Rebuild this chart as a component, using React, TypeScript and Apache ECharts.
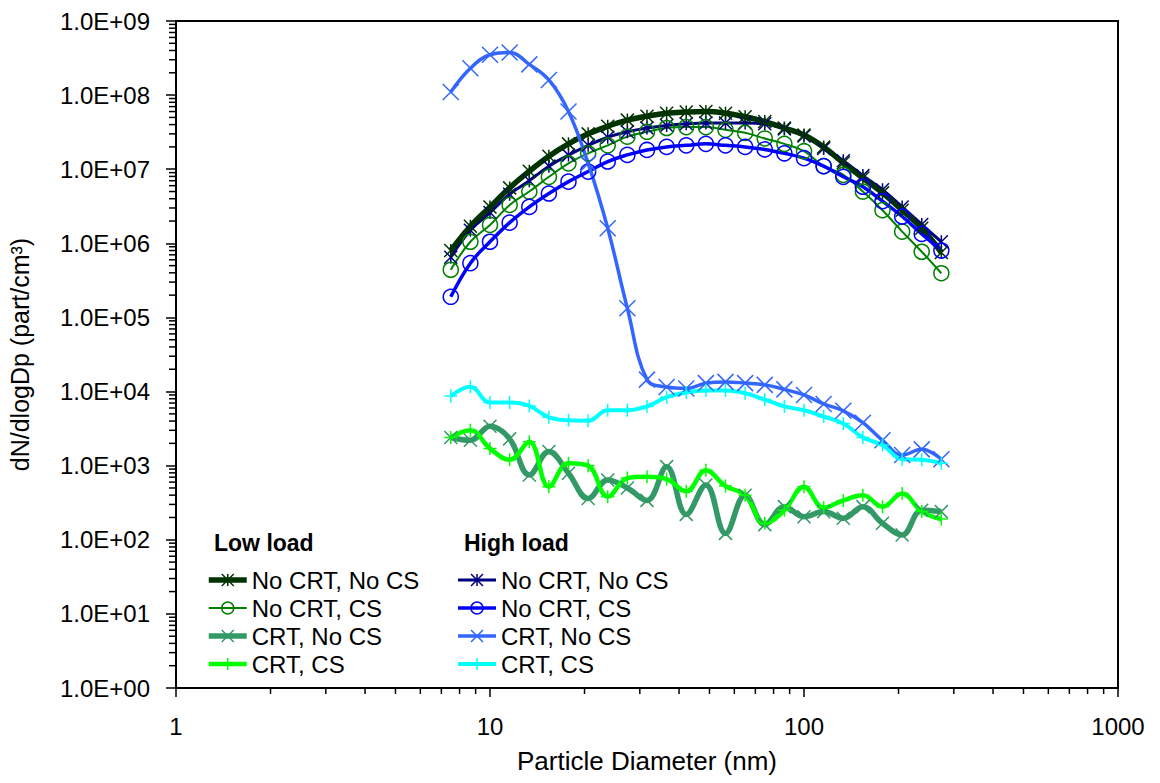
import React, { useEffect, useRef } from "react";
import * as echarts from "echarts";

// Particle diameters (nm), SMPS channel midpoints
const diameters = [7.5, 8.66, 10.0, 11.55, 13.34, 15.4, 17.78, 20.54, 23.71, 27.38, 31.62, 36.52, 42.17, 48.7, 56.23, 64.94, 74.99, 86.6, 100.0, 115.5, 133.4, 154.0, 177.8, 205.4, 237.1, 273.8];

// Low load
const lowNoCrtNoCs = [8.0e5, 1.7e6, 3.1e6, 5.6e6, 9.4e6, 1.5e7, 2.2e7, 3.0e7, 3.8e7, 4.6e7, 5.2e7, 5.7e7, 5.9e7, 6.0e7, 5.7e7, 5.1e7, 4.4e7, 3.6e7, 2.9e7, 2.0e7, 1.22e7, 7.6e6, 4.8e6, 2.8e6, 1.6e6, 7.5e5];
const lowNoCrtCs = [4.4e5, 1.05e6, 1.77e6, 3.3e6, 5.0e6, 7.9e6, 1.2e7, 1.64e7, 2.1e7, 2.75e7, 3.2e7, 3.6e7, 3.7e7, 3.7e7, 3.4e7, 3.1e7, 2.6e7, 2.2e7, 1.75e7, 1.1e7, 8.4e6, 5.0e6, 2.8e6, 1.44e6, 7.7e5, 3.95e5];
const lowCrtNoCs = [2.4e3, 2.2e3, 3.4e3, 2.3e3, 7.5e2, 1.55e3, 7.9e2, 3.6e2, 6.4e2, 5.0e2, 3.4e2, 9.7e2, 2.2e2, 5.5e2, 1.22e2, 4.0e2, 1.6e2, 2.8e2, 2.05e2, 2.4e2, 1.95e2, 2.8e2, 1.67e2, 1.16e2, 2.5e2, 2.4e2];
const lowCrtCs = [2.4e3, 3.0e3, 1.7e3, 1.2e3, 2.1e3, 5.2e2, 1.08e3, 1.0e3, 3.8e2, 6.8e2, 7.1e2, 6.6e2, 4.5e2, 8.7e2, 5.3e2, 4.0e2, 1.67e2, 2.5e2, 5.2e2, 2.7e2, 3.4e2, 4.0e2, 2.8e2, 4.2e2, 2.4e2, 1.9e2];

// High load
const highNoCrtNoCs = [6.5e5, 1.5e6, 2.6e6, 4.6e6, 7.0e6, 1.1e7, 1.55e7, 2.1e7, 2.7e7, 3.2e7, 3.6e7, 3.9e7, 4.1e7, 4.2e7, 4.2e7, 4.2e7, 4.1e7, 3.5e7, 2.8e7, 1.9e7, 1.3e7, 8.2e6, 5.3e6, 3.1e6, 1.8e6, 1.05e6];
const highNoCrtCs = [1.9e5, 5.4e5, 1.05e6, 1.9e6, 3.1e6, 4.7e6, 6.8e6, 9.3e6, 1.27e7, 1.56e7, 1.82e7, 2.0e7, 2.1e7, 2.2e7, 2.1e7, 2.0e7, 1.85e7, 1.64e7, 1.41e7, 1.1e7, 7.9e6, 5.8e6, 3.7e6, 2.3e6, 1.34e6, 8.0e5];
const highCrtNoCs = [1.1e8, 2.3e8, 3.5e8, 3.75e8, 2.6e8, 1.6e8, 6.0e7, 1.2e7, 1.6e6, 1.33e5, 1.45e4, 1.15e4, 1.1e4, 1.3e4, 1.35e4, 1.3e4, 1.23e4, 1.07e4, 9.0e3, 6.8e3, 5.5e3, 3.8e3, 2.2e3, 1.39e3, 1.66e3, 1.22e3];
const highCrtCs = [8.7e3, 1.16e4, 7.1e3, 7.1e3, 6.4e3, 4.5e3, 4.1e3, 4.05e3, 5.6e3, 5.6e3, 6.3e3, 8.4e3, 9.7e3, 1.03e4, 1.03e4, 9.5e3, 7.8e3, 6.3e3, 5.6e3, 4.6e3, 3.7e3, 2.4e3, 1.9e3, 1.22e3, 1.2e3, 1.08e3];

const yTickLabels = ["1.0E+00", "1.0E+01", "1.0E+02", "1.0E+03", "1.0E+04", "1.0E+05", "1.0E+06", "1.0E+07", "1.0E+08", "1.0E+09"];
const xTickLabels = ["1", "10", "100", "1000"];
const legendNames = ["No CRT, No CS", "No CRT, CS", "CRT, No CS", "CRT, CS"];

const STAR = "path://M0 0L10 10M10 0L0 10M5 0L5 10";
const CROSS = "path://M0 0L10 10M10 0L0 10";
const PLUS = "path://M5 0L5 10M0 5L10 5";

const FONT = "Liberation Sans, Arial, sans-serif";

function mk(name: string, values: number[], color: string, lineWidth: number, symbol: string, symbolSize: number, symW: number) {
  return {
    type: "line",
    name,
    data: diameters.map((d, i) => [d, values[i]]),
    smooth: 0.4,
    symbol,
    symbolSize,
    showSymbol: true,
    lineStyle: { color, width: lineWidth },
    itemStyle: { color: "transparent", borderColor: color, borderWidth: symW },
    emphasis: { disabled: true },
  };
}

export default function App() {
  const ref = useRef<HTMLDivElement>(null);
  useEffect(() => {
    document.body.style.margin = "0";
    const chart = echarts.init(ref.current!, null, { renderer: "svg" });
    const yMinor: number[][] = [];
    for (let k = 0; k < 9; k++) for (let m = 2; m <= 9; m++) yMinor.push([1, m * Math.pow(10, k)]);
    const xMinor: number[][] = [];
    for (let k = 0; k < 3; k++) for (let m = 2; m <= 9; m++) xMinor.push([m * Math.pow(10, k), 1]);

    const legendBase = {
      orient: "vertical",
      itemWidth: 38,
      itemHeight: 15,
      itemGap: 4,
      padding: 0,
      selectedMode: false,
      textStyle: { fontSize: 24, fontFamily: FONT, color: "#000", lineHeight: 24 },
      lineStyle: { width: "inherit" },
      itemStyle: { borderWidth: "inherit" },
      formatter: (n: string) => n.replace(/^(Low|High): /, ""),
    };

    chart.setOption({
      animation: false,
      backgroundColor: "#fff",
      grid: { left: 176, right: 42, top: 21, bottom: 95, show: true, borderColor: "#000", borderWidth: 2, backgroundColor: "transparent", containLabel: false, outerBoundsMode: "none" },
      xAxis: {
        type: "log",
        logBase: 10,
        min: 1,
        max: 1000,
        axisLine: { show: true, lineStyle: { color: "#000", width: 2 } },
        axisTick: { show: true, length: 9, lineStyle: { color: "#000", width: 1.5 } },
        splitLine: { show: false },
        axisLabel: {
          fontSize: 24, fontFamily: FONT, color: "#000", margin: 26,
          formatter: (v: number) => xTickLabels[Math.round(Math.log10(v))] ?? "",
        },
        name: "Particle Diameter (nm)",
        nameLocation: "middle",
        nameGap: 60,
        nameTextStyle: { fontSize: 26, fontFamily: FONT, color: "#000" },
      },
      yAxis: {
        type: "log",
        logBase: 10,
        min: 1,
        max: 1e9,
        axisLine: { show: true, lineStyle: { color: "#000", width: 2 } },
        axisTick: { show: true, length: 10, lineStyle: { color: "#000", width: 1.5 } },
        splitLine: { show: false },
        axisLabel: {
          fontSize: 24, fontFamily: FONT, color: "#000", margin: 26,
          formatter: (v: number) => yTickLabels[Math.round(Math.log10(v))] ?? "",
        },
        name: "dN/dlogDp (part/cm³)",
        nameLocation: "middle",
        nameGap: 144,
        nameTextStyle: { fontSize: 25, fontFamily: FONT, color: "#000" },
      },
      legend: [
        { ...legendBase, left: 206, top: 568, data: legendNames.map((n) => "Low: " + n) },
        { ...legendBase, left: 456, top: 568, data: legendNames.map((n) => "High: " + n) },
      ],
      graphic: [
        { type: "text", left: 214, top: 531, style: { text: "Low load", font: `bold 23px ${FONT}`, fill: "#000" } },
        { type: "text", left: 464, top: 531, style: { text: "High load", font: `bold 23px ${FONT}`, fill: "#000" } },
      ],
      series: [
        {
          type: "custom",
          name: "yminor",
          silent: true,
          clip: false,
          z: 5,
          data: yMinor,
          encode: { x: 0, y: 1 },
          renderItem: (_p: any, api: any) => {
            const pt = api.coord([api.value(0), api.value(1)]);
            return { type: "line", shape: { x1: pt[0] - 7, y1: pt[1], x2: pt[0], y2: pt[1] }, style: { stroke: "#000", lineWidth: 1.5 } };
          },
        },
        {
          type: "custom",
          name: "xminor",
          silent: true,
          clip: false,
          z: 5,
          data: xMinor,
          encode: { x: 0, y: 1 },
          renderItem: (_p: any, api: any) => {
            const pt = api.coord([api.value(0), api.value(1)]);
            return { type: "line", shape: { x1: pt[0], y1: pt[1], x2: pt[0], y2: pt[1] + 6 }, style: { stroke: "#000", lineWidth: 1.5 } };
          },
        },
        mk("High: No CRT, No CS", highNoCrtNoCs, "#000080", 3, STAR, 13, 1.5),
        mk("Low: No CRT, No CS", lowNoCrtNoCs, "#003300", 5.5, STAR, 13, 1.5),
        mk("Low: No CRT, CS", lowNoCrtCs, "#008000", 2, "circle", 15, 1.5),
        mk("Low: CRT, No CS", lowCrtNoCs, "#339966", 5.5, CROSS, 13, 1.5),
        mk("Low: CRT, CS", lowCrtCs, "#00ff00", 4.5, PLUS, 13, 1.5),
        mk("High: No CRT, CS", highNoCrtCs, "#0000ff", 3.5, "circle", 15, 1.5),
        mk("High: CRT, No CS", highCrtNoCs, "#3366ff", 3.5, CROSS, 16, 1.5),
        mk("High: CRT, CS", highCrtCs, "#00ffff", 4, PLUS, 13, 1.5),
      ],
    });
    return () => chart.dispose();
  }, []);
  return <div ref={ref} style={{ position: "fixed", left: 0, top: 0, width: 1160, height: 783, background: "#fff" }} />;
}
